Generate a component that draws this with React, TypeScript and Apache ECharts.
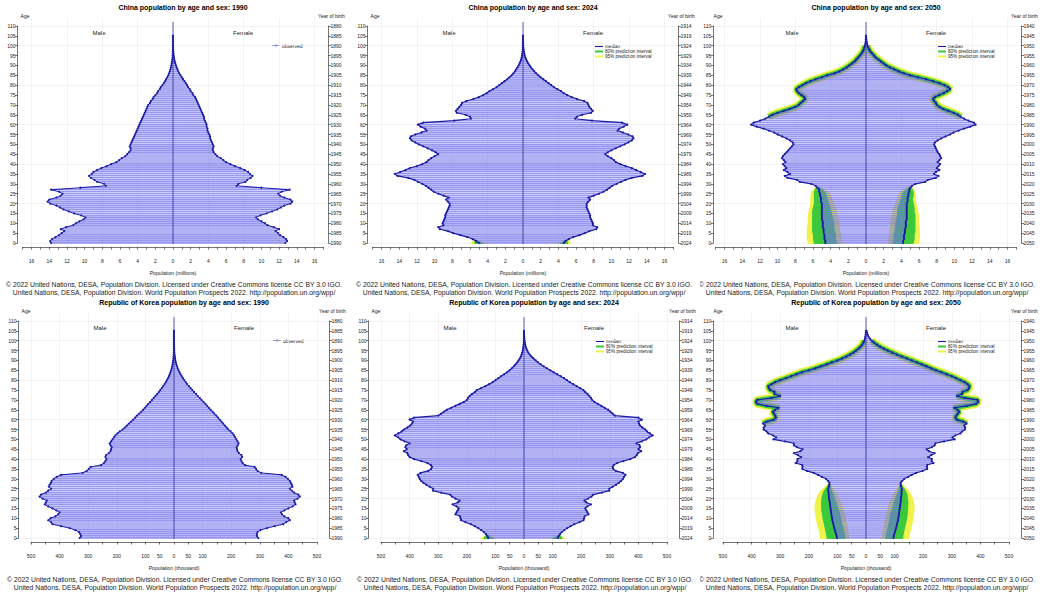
import React, { useEffect, useRef } from "react";
import * as echarts from "echarts";

const FONT = "'Liberation Sans', Arial, Helvetica, sans-serif";
const CREDIT_1 =
  "© 2022 United Nations, DESA, Population Division. Licensed under Creative Commons license CC BY 3.0 IGO.";
const CREDIT_2 =
  "United Nations, DESA, Population Division. World Population Prospects 2022. http://population.un.org/wpp/";

// ---- China, millions, index = age (0..105) ----
const china1990Male = [
  13.8, 13.9, 13.7, 13.3, 12.9, 12.6, 12.3, 12.7, 12.1, 11.3,
  11.0, 10.6, 10.1, 9.9, 10.4, 11.2, 11.8, 12.4, 12.8, 13.2,
  13.9, 14.2, 14.0, 13.2, 12.7, 12.5, 12.9, 13.8, 10.5, 7.6,
  7.8, 8.6, 8.9, 9.3, 9.5, 9.2, 9.0, 8.6, 8.1, 7.5,
  7.0, 6.4, 6.1, 5.8, 5.4, 5.2, 5.0, 4.8, 4.8, 4.9,
  4.8, 4.7, 4.6, 4.5, 4.4, 4.3, 4.2, 4.1, 4.0, 3.9,
  3.8, 3.7, 3.6, 3.5, 3.4, 3.3, 3.2, 3.1, 3.0, 2.9,
  2.8, 2.6, 2.5, 2.3, 2.2, 2.0, 1.8, 1.7, 1.5, 1.4,
  1.2, 1.05, 0.9, 0.8, 0.65, 0.55, 0.45, 0.37, 0.3, 0.24,
  0.19, 0.15, 0.11, 0.08, 0.06, 0.04, 0.03, 0.02, 0.015, 0.01,
  0.008, 0.005, 0.003, 0.002, 0.001, 0.001,
];
const china1990Female = [
  12.7, 12.9, 12.8, 12.5, 12.1, 11.9, 11.6, 12.0, 11.4, 10.7,
  10.4, 10.0, 9.6, 9.4, 9.9, 10.6, 11.2, 11.8, 12.2, 12.6,
  13.3, 13.5, 13.3, 12.6, 12.1, 11.9, 12.3, 13.2, 10.0, 7.2,
  7.4, 8.2, 8.4, 8.8, 9.0, 8.7, 8.5, 8.1, 7.6, 7.0,
  6.5, 6.0, 5.7, 5.4, 5.0, 4.8, 4.6, 4.5, 4.5, 4.6,
  4.5, 4.4, 4.3, 4.2, 4.2, 4.1, 4.0, 3.9, 3.9, 3.8,
  3.8, 3.7, 3.6, 3.5, 3.5, 3.4, 3.3, 3.2, 3.1, 3.0,
  2.9, 2.8, 2.7, 2.6, 2.5, 2.3, 2.2, 2.0, 1.9, 1.7,
  1.6, 1.45, 1.3, 1.15, 1.0, 0.85, 0.72, 0.6, 0.5, 0.41,
  0.33, 0.26, 0.2, 0.15, 0.11, 0.08, 0.06, 0.04, 0.03, 0.02,
  0.014, 0.009, 0.006, 0.004, 0.002, 0.001,
];
const china2024Male = [
  5.0, 5.3, 5.7, 6.3, 7.1, 7.9, 8.5, 9.4, 9.6, 9.0,
  9.1, 9.0, 8.9, 8.8, 8.8, 8.7, 8.6, 8.5, 8.4, 8.3,
  8.3, 8.5, 8.7, 8.4, 9.0, 9.6, 10.1, 10.4, 10.7, 11.0,
  11.4, 11.9, 12.3, 13.0, 14.2, 14.5, 13.9, 13.3, 12.8, 12.0,
  11.4, 10.9, 10.7, 10.4, 10.0, 9.6, 9.9, 10.3, 10.8, 11.3,
  11.8, 12.2, 12.6, 12.8, 12.7, 12.2, 11.5, 10.9, 11.1, 11.6,
  11.9, 11.3, 7.8, 5.9, 6.0, 6.5, 7.5, 7.6, 7.4, 7.2,
  7.0, 6.9, 6.4, 5.6, 5.0, 4.5, 4.1, 3.8, 3.4, 3.0,
  2.7, 2.4, 2.1, 1.8, 1.55, 1.3, 1.1, 0.92, 0.77, 0.63,
  0.5, 0.39, 0.3, 0.22, 0.16, 0.11, 0.08, 0.055, 0.036, 0.024,
  0.015, 0.01, 0.006, 0.004, 0.002, 0.001,
];
const china2024Female = [
  4.6, 4.8, 5.2, 5.7, 6.4, 7.0, 7.5, 8.3, 8.4, 7.9,
  7.9, 7.8, 7.7, 7.6, 7.6, 7.5, 7.4, 7.3, 7.2, 7.2,
  7.2, 7.4, 7.6, 7.4, 8.0, 8.6, 9.1, 9.5, 9.8, 10.1,
  10.6, 11.1, 11.6, 12.3, 13.5, 13.8, 13.3, 12.8, 12.3, 11.6,
  11.0, 10.5, 10.3, 10.0, 9.6, 9.3, 9.6, 10.0, 10.5, 11.0,
  11.5, 11.9, 12.3, 12.5, 12.4, 11.9, 11.3, 10.7, 10.9, 11.4,
  11.8, 11.2, 7.8, 5.9, 6.1, 6.7, 7.7, 7.9, 7.7, 7.5,
  7.4, 7.3, 6.9, 6.1, 5.5, 5.0, 4.6, 4.3, 3.9, 3.5,
  3.2, 2.9, 2.6, 2.3, 2.0, 1.75, 1.5, 1.28, 1.08, 0.9,
  0.74, 0.6, 0.47, 0.36, 0.27, 0.2, 0.14, 0.1, 0.07, 0.045,
  0.03, 0.02, 0.012, 0.007, 0.004, 0.002,
];
const china2050Male = [
  4.6, 4.6, 4.7, 4.7, 4.7, 4.8, 4.8, 4.8, 4.9, 4.9,
  4.9, 4.9, 5.0, 5.0, 5.0, 5.0, 5.0, 5.0, 5.0, 5.0,
  5.0, 5.1, 5.1, 5.1, 5.2, 5.2, 5.3, 5.3, 5.5, 5.7,
  6.2, 7.5, 7.8, 8.9, 9.2, 8.6, 8.9, 9.3, 9.0, 9.2,
  9.4, 9.1, 9.3, 9.5, 9.4, 9.2, 9.0, 8.8, 8.6, 8.4,
  8.2, 8.3, 8.6, 9.0, 9.5, 10.0, 10.4, 11.0, 11.6, 12.4,
  13.0, 12.7, 12.0, 11.4, 11.0, 10.6, 10.0, 9.3, 8.6, 8.0,
  7.6, 7.4, 7.1, 6.9, 7.0, 7.3, 7.6, 7.8, 7.9, 7.6,
  7.2, 6.8, 6.3, 5.7, 5.0, 4.4, 3.6, 3.0, 2.6, 2.2,
  1.9, 1.6, 1.3, 1.1, 0.9, 0.7, 0.52, 0.38, 0.27, 0.19,
  0.13, 0.08, 0.05, 0.03, 0.015, 0.007,
];
const china2050Female = [
  4.2, 4.2, 4.3, 4.3, 4.3, 4.4, 4.4, 4.4, 4.5, 4.5,
  4.5, 4.5, 4.6, 4.6, 4.6, 4.6, 4.6, 4.6, 4.6, 4.6,
  4.6, 4.7, 4.7, 4.7, 4.8, 4.8, 4.9, 4.9, 5.0, 5.2,
  5.6, 6.7, 7.0, 7.9, 8.2, 7.7, 7.9, 8.3, 8.0, 8.2,
  8.4, 8.1, 8.3, 8.5, 8.4, 8.3, 8.1, 8.0, 7.9, 7.8,
  7.7, 7.8, 8.1, 8.5, 9.0, 9.5, 9.9, 10.5, 11.1, 11.8,
  12.4, 12.2, 11.6, 11.1, 10.7, 10.4, 9.9, 9.3, 8.7, 8.3,
  8.0, 7.9, 7.7, 7.6, 7.8, 8.3, 8.8, 9.2, 9.5, 9.3,
  8.9, 8.3, 7.6, 6.8, 5.9, 5.0, 4.3, 3.7, 3.2, 2.7,
  2.3, 2.0, 1.7, 1.4, 1.1, 0.9, 0.7, 0.5, 0.37, 0.26,
  0.18, 0.12, 0.08, 0.05, 0.03, 0.015,
];

// ---- Republic of Korea, thousands, index = age (0..105) ----
const korea1990Male = [
  330, 325, 328, 332, 345, 365, 395, 425, 430, 440,
  432, 415, 405, 400, 412, 425, 440, 452, 448, 445,
  460, 470, 465, 448, 440, 430, 438, 435, 430, 428,
  420, 410, 395, 320, 305, 298, 292, 255, 245, 240,
  236, 240, 238, 228, 222, 220, 218, 222, 225, 220,
  215, 210, 205, 198, 190, 180, 172, 165, 158, 150,
  143, 136, 130, 122, 115, 108, 102, 96, 90, 83,
  77, 71, 65, 59, 53, 48, 43, 38, 33, 29,
  25, 21, 18, 15, 12.5, 10, 8, 6.3, 5, 3.8,
  2.9, 2.2, 1.6, 1.2, 0.9, 0.6, 0.45, 0.3, 0.2, 0.15,
  0.1, 0.07, 0.05, 0.03, 0.02, 0.01,
];
const korea1990Female = [
  295, 290, 290, 292, 302, 325, 352, 382, 392, 405,
  400, 386, 378, 374, 386, 400, 415, 425, 422, 420,
  432, 440, 435, 420, 412, 405, 414, 412, 408, 405,
  398, 390, 376, 305, 292, 287, 282, 248, 240, 236,
  233, 238, 236, 227, 222, 220, 219, 223, 226, 222,
  218, 214, 210, 205, 198, 190, 184, 178, 172, 166,
  160, 154, 148, 141, 135, 128, 122, 116, 110, 103,
  96, 90, 83, 77, 70, 64, 58, 52, 46, 41,
  36, 31, 27, 23, 19.5, 16, 13, 10.5, 8.2, 6.4,
  4.9, 3.7, 2.8, 2, 1.5, 1.1, 0.8, 0.55, 0.4, 0.28,
  0.2, 0.14, 0.1, 0.06, 0.04, 0.02,
];
const korea2024Male = [
  125, 128, 133, 140, 150, 160, 172, 186, 205, 220,
  222, 224, 240, 236, 232, 228, 236, 250, 232, 225,
  240, 252, 258, 290, 318, 318, 330, 342, 352, 360,
  365, 368, 372, 362, 335, 325, 322, 326, 338, 360,
  385, 400, 405, 408, 420, 410, 415, 412, 400, 418,
  432, 440, 452, 440, 428, 420, 408, 398, 392, 388,
  400, 385, 300, 290, 280, 270, 255, 240, 225, 210,
  200, 196, 190, 182, 172, 165, 150, 135, 122, 110,
  100, 90, 80, 70, 60, 51, 43, 36, 30, 24,
  19, 15, 11, 8.5, 6.3, 4.6, 3.3, 2.3, 1.6, 1.1,
  0.7, 0.5, 0.3, 0.2, 0.1, 0.05,
];
const korea2024Female = [
  118, 121, 126, 132, 141, 151, 163, 176, 194, 208,
  210, 212, 226, 222, 218, 214, 221, 234, 218, 211,
  224, 236, 242, 272, 298, 298, 310, 322, 332, 340,
  346, 350, 355, 346, 321, 312, 310, 314, 326, 348,
  372, 388, 394, 398, 410, 400, 406, 404, 393, 412,
  428, 437, 450, 440, 430, 424, 414, 406, 402, 400,
  412, 400, 318, 310, 302, 294, 282, 270, 258, 246,
  238, 234, 228, 222, 214, 208, 196, 184, 172, 160,
  150, 140, 128, 116, 104, 92, 80, 69, 59, 49,
  41, 33, 26, 20, 15, 11.5, 8.5, 6, 4.2, 2.9,
  2, 1.3, 0.9, 0.6, 0.4, 0.2,
];
const korea2050Male = [
  102, 103, 105, 107, 109, 111, 113, 114, 116, 118,
  119, 120, 121, 122, 123, 124, 125, 126, 127, 128,
  129, 130, 131, 131, 132, 132, 130, 128, 128, 133,
  140, 155, 168, 183, 207, 223, 222, 223, 246, 240,
  240, 227, 238, 252, 230, 222, 242, 252, 253, 284,
  324, 314, 325, 342, 348, 358, 358, 353, 360, 347,
  322, 315, 318, 322, 326, 318, 305, 348, 380, 385,
  380, 330, 300, 320, 320, 335, 340, 342, 330, 318,
  300, 280, 262, 244, 225, 200, 178, 158, 138, 120,
  100, 84, 69, 56, 44, 35, 26, 19, 13, 9,
  6, 4, 2.5, 1.5, 0.9, 0.5,
];
const korea2050Female = [
  96, 97, 99, 101, 103, 105, 107, 108, 110, 112,
  113, 114, 115, 116, 117, 118, 119, 120, 121, 122,
  122, 123, 124, 124, 125, 125, 123, 121, 121, 127,
  134, 148, 160, 175, 198, 214, 213, 214, 236, 230,
  230, 217, 228, 240, 220, 212, 230, 240, 243, 273,
  310, 302, 312, 330, 336, 346, 347, 343, 352, 340,
  318, 312, 316, 321, 326, 320, 308, 352, 385, 392,
  390, 345, 318, 335, 338, 355, 360, 362, 355, 345,
  330, 315, 300, 282, 264, 245, 228, 212, 195, 178,
  160, 143, 125, 108, 92, 76, 62, 49, 38, 28,
  20, 14, 9, 6, 4, 2,
];

// ---- prediction intervals: [age, lo95, lo80, hi80, hi95] ----
const china2024MaleBands = [
  [0, 4.2, 4.5, 5.5, 5.9],
  [1, 4.9, 5.0, 5.5, 5.7],
  [2, 5.5, 5.55, 5.65, 5.7],
];
const china2024FemaleBands = [
  [0, 3.9, 4.2, 5.1, 5.4],
  [1, 4.5, 4.6, 5.0, 5.2],
  [2, 5.1, 5.15, 5.25, 5.3],
];
const china2050MaleBands = [
  [0, 2.7, 3.3, 5.9, 6.6],
  [2, 2.8, 3.4, 6.0, 6.7],
  [4, 2.8, 3.4, 6.0, 6.7],
  [6, 2.9, 3.5, 6.1, 6.7],
  [8, 3.0, 3.6, 6.1, 6.7],
  [10, 3.0, 3.6, 6.1, 6.6],
  [12, 3.1, 3.7, 6.1, 6.6],
  [14, 3.2, 3.8, 6.1, 6.6],
  [16, 3.3, 3.9, 6.1, 6.5],
  [18, 3.4, 4.0, 6.0, 6.4],
  [20, 3.6, 4.2, 5.9, 6.3],
  [22, 3.8, 4.3, 5.9, 6.3],
  [24, 3.9, 4.4, 5.9, 6.3],
  [26, 4.2, 4.6, 5.9, 6.2],
  [28, 5.0, 5.2, 5.7, 5.8],
];
const china2050FemaleBands = [
  [0, 2.5, 3.0, 5.4, 6.0],
  [2, 2.5, 3.1, 5.5, 6.1],
  [4, 2.6, 3.1, 5.5, 6.1],
  [6, 2.6, 3.2, 5.6, 6.1],
  [8, 2.7, 3.3, 5.6, 6.1],
  [10, 2.7, 3.3, 5.6, 6.0],
  [12, 2.8, 3.4, 5.6, 6.0],
  [14, 2.9, 3.5, 5.6, 6.0],
  [16, 3.0, 3.5, 5.5, 5.9],
  [18, 3.1, 3.6, 5.5, 5.8],
  [20, 3.3, 3.8, 5.4, 5.7],
  [22, 3.5, 3.9, 5.3, 5.6],
  [24, 3.6, 4.0, 5.4, 5.7],
  [26, 3.8, 4.2, 5.4, 5.6],
  [28, 4.6, 4.8, 5.2, 5.3],
];
const korea2024MaleBands = [
  [0, 96, 106, 142, 152],
  [1, 118, 121, 135, 138],
  [2, 131, 132, 134, 135],
];
const korea2024FemaleBands = [
  [0, 90, 100, 134, 144],
  [1, 112, 115, 128, 131],
  [2, 124, 125, 127, 128],
];
const korea2050MaleBands = [
  [0, 58, 72, 138, 160],
  [2, 60, 74, 140, 163],
  [4, 62, 77, 143, 166],
  [6, 65, 80, 146, 170],
  [8, 68, 84, 149, 173],
  [10, 71, 87, 152, 176],
  [12, 74, 90, 154, 178],
  [14, 78, 94, 156, 180],
  [16, 82, 98, 157, 180],
  [18, 87, 103, 157, 178],
  [20, 93, 108, 156, 174],
  [22, 100, 113, 153, 168],
  [24, 108, 119, 148, 160],
  [26, 118, 123, 138, 144],
  [28, 126, 127, 129, 130],
];
const korea2050FemaleBands = [
  [0, 55, 68, 130, 151],
  [2, 57, 70, 132, 154],
  [4, 59, 73, 135, 157],
  [6, 61, 76, 138, 161],
  [8, 64, 79, 141, 163],
  [10, 67, 82, 144, 166],
  [12, 70, 85, 146, 168],
  [14, 74, 89, 147, 170],
  [16, 77, 93, 148, 170],
  [18, 82, 97, 148, 168],
  [20, 88, 102, 147, 164],
  [22, 95, 107, 145, 159],
  [24, 102, 112, 140, 151],
  [26, 112, 116, 130, 136],
  [28, 119, 120, 122, 123],
];

// ---- layout (panel-local pixels) ----
const PLOT_TOP = 18;
const PLOT_BOTTOM = 247;
const AGE110_Y = 26;
const AGE0_Y = 243;
const HALF_W = 155.5;

const C_FILL = "rgba(112,112,236,0.72)";
const C_EDGE = "#1a1aa6";
const C_AXIS = "#3a3a3a";
const C_TEXT = "#222";
const C_Y95 = "#eef24a";
const C_G80 = "#3cc83c";

const SCALES: any = {
  cn: {
    ppu: 8.84,
    tickMax: 17,
    tickStep: 1,
    gridMax: 16,
    gridStep: 4,
    unit: "Population (millions)",
    label: (v: number) => (Math.round(v) % 2 === 0 ? String(Math.abs(Math.round(v))) : ""),
  },
  kr: {
    ppu: 0.286,
    tickMax: 500,
    tickStep: 50,
    gridMax: 500,
    gridStep: 100,
    unit: "Population (thousand)",
    label: (v: number) => {
      const a = Math.abs(Math.round(v));
      return a % 100 === 0 || a === 50 ? String(a) : "";
    },
  },
};

interface Panel {
  title: string;
  year: number;
  kind: "cn" | "kr";
  male: number[];
  female: number[];
  maleBands?: number[][];
  femaleBands?: number[][];
  fringeFrom?: number;
  left: number;
  top: number;
  width: number;
  height: number;
  cx: number;
}

const ROW2 = 295;

const PANELS: Panel[] = [
  { title: "China population by age and sex: 1990", year: 1990, kind: "cn", male: china1990Male, female: china1990Female, left: 0, top: 0, width: 350, height: 298, cx: 173 },
  { title: "China population by age and sex: 2024", year: 2024, kind: "cn", male: china2024Male, female: china2024Female, maleBands: china2024MaleBands, femaleBands: china2024FemaleBands, left: 350, top: 0, width: 350, height: 298, cx: 173 },
  { title: "China population by age and sex: 2050", year: 2050, kind: "cn", male: china2050Male, female: china2050Female, maleBands: china2050MaleBands, femaleBands: china2050FemaleBands, fringeFrom: 64, left: 700, top: 0, width: 345, height: 298, cx: 166 },
  { title: "Republic of Korea population by age and sex: 1990", year: 1990, kind: "kr", male: korea1990Male, female: korea1990Female, left: 0, top: ROW2, width: 350, height: 301, cx: 174 },
  { title: "Republic of Korea population by age and sex: 2024", year: 2024, kind: "kr", male: korea2024Male, female: korea2024Female, maleBands: korea2024MaleBands, femaleBands: korea2024FemaleBands, left: 350, top: ROW2, width: 350, height: 301, cx: 174 },
  { title: "Republic of Korea population by age and sex: 2050", year: 2050, kind: "kr", male: korea2050Male, female: korea2050Female, maleBands: korea2050MaleBands, femaleBands: korea2050FemaleBands, fringeFrom: 58, left: 700, top: ROW2, width: 345, height: 301, cx: 166 },
];

function txt(text: string, x: number, y: number, size: number, align = "center", weight = "normal", fill = C_TEXT) {
  return {
    type: "text",
    x,
    y,
    silent: true,
    style: {
      text,
      fill,
      fontSize: size,
      fontFamily: FONT,
      fontWeight: weight,
      align,
      textAlign: align,
      verticalAlign: "middle",
      textVerticalAlign: "middle",
    },
  };
}

// interval band drawn as one polygon on the plot scales
function bandSeries(rows: number[][], sign: number, loIdx: number, hiIdx: number, color: string) {
  return {
    type: "custom",
    xAxisIndex: 0,
    yAxisIndex: 0,
    z: 1,
    silent: true,
    data: [0],
    renderItem: (_params: any, api: any) => {
      const pts: number[][] = [];
      const n = rows.length;
      pts.push(api.coord([sign * rows[0][loIdx], rows[0][0] - 0.5]));
      rows.forEach((r) => pts.push(api.coord([sign * r[loIdx], r[0]])));
      pts.push(api.coord([sign * rows[n - 1][loIdx], rows[n - 1][0] + 0.5]));
      pts.push(api.coord([sign * rows[n - 1][hiIdx], rows[n - 1][0] + 0.5]));
      for (let i = n - 1; i >= 0; i--) pts.push(api.coord([sign * rows[i][hiIdx], rows[i][0]]));
      pts.push(api.coord([sign * rows[0][hiIdx], rows[0][0] - 0.5]));
      return { type: "polygon", shape: { points: pts }, style: { fill: color } };
    },
  };
}

function buildOption(p: Panel) {
  const s = SCALES[p.kind];
  const xr = HALF_W / s.ppu;
  const pxYear = (AGE0_Y - AGE110_Y) / 110;
  const yMin = -(PLOT_BOTTOM - AGE0_Y) / pxYear;
  const yMax = 110 + (AGE110_Y - PLOT_TOP) / pxYear;
  const plotLeft = p.cx - HALF_W;
  const projected = !!p.maleBands;

  const series: any[] = [];

  if (p.maleBands && p.femaleBands) {
    series.push(bandSeries(p.maleBands, -1, 1, 4, C_Y95));
    series.push(bandSeries(p.femaleBands, 1, 1, 4, C_Y95));
    series.push(bandSeries(p.maleBands, -1, 2, 3, C_G80));
    series.push(bandSeries(p.femaleBands, 1, 2, 3, C_G80));
  }

  if (p.fringeFrom !== undefined) {
    const from = p.fringeFrom;
    const mf = p.male.map((v, a) => [-v, a]).filter((d) => d[1] >= from && d[1] <= 100);
    const ff = p.female.map((v, a) => [v, a]).filter((d) => d[1] >= from && d[1] <= 100);
    [mf, ff].forEach((d) => {
      series.push({ type: "line", xAxisIndex: 0, yAxisIndex: 0, z: 1, silent: true, data: d, symbol: "none", lineStyle: { color: C_Y95, width: 8 } });
      series.push({ type: "line", xAxisIndex: 0, yAxisIndex: 0, z: 1, silent: true, data: d, symbol: "none", lineStyle: { color: C_G80, width: 4.5 } });
    });
  }

  const bars = [
    ...p.male.map((v, a) => [-v, a]),
    ...p.female.map((v, a) => [v, a]),
  ];
  series.push({
    type: "custom",
    xAxisIndex: 0,
    yAxisIndex: 0,
    z: 3,
    silent: true,
    data: bars,
    renderItem: (_params: any, api: any) => {
      const x = api.value(0);
      const age = api.value(1);
      const p0 = api.coord([0, age + 0.5]);
      const p1 = api.coord([x, age - 0.5]);
      return {
        type: "rect",
        shape: {
          x: Math.min(p0[0], p1[0]),
          y: p0[1],
          width: Math.abs(p1[0] - p0[0]),
          height: Math.max(0.1, p1[1] - p0[1] - 0.35),
        },
        style: { fill: C_FILL },
      };
    },
  });

  [p.male.map((v, a) => [-v, a]), p.female.map((v, a) => [v, a])].forEach((d) => {
    series.push({
      type: "line",
      xAxisIndex: 0,
      yAxisIndex: 0,
      z: 4,
      silent: true,
      data: d,
      symbol: "circle",
      symbolSize: 2,
      itemStyle: { color: C_EDGE },
      lineStyle: { color: C_EDGE, width: projected ? 1.15 : 1 },
    });
  });

  series.push({
    type: "line",
    xAxisIndex: 0,
    yAxisIndex: 0,
    z: 5,
    silent: true,
    data: [
      [0, -0.5],
      [0, 112],
    ],
    symbol: "none",
    lineStyle: { color: "#30309a", width: 0.8 },
  });

  const ageAxis = (position: string, fmt: (v: number) => string) => ({
    gridIndex: 1,
    type: "value",
    position,
    min: 0,
    max: 110,
    interval: 5,
    axisLine: { show: true, lineStyle: { color: C_AXIS, width: 0.7 } },
    axisTick: { show: true, length: 2.5, lineStyle: { color: C_AXIS, width: 0.7 } },
    axisLabel: { show: true, fontSize: 5, fontFamily: FONT, color: C_TEXT, margin: 2, formatter: fmt },
    splitLine: { show: false },
  });

  const grid3Left = p.cx - s.gridMax * s.ppu;
  const legend: any[] = [];
  if (!projected) {
    const lx = p.cx + 99;
    legend.push({ type: "line", silent: true, shape: { x1: lx, y1: 45.5, x2: lx + 8, y2: 45.5 }, style: { stroke: C_EDGE, lineWidth: 0.9 } });
    legend.push({ type: "circle", silent: true, shape: { cx: lx + 4, cy: 45.5, r: 0.9 }, style: { fill: C_EDGE } });
    legend.push(txt("observed", lx + 10, 45.5, 5, "left"));
  } else {
    const lx = p.cx + 72;
    const rows = [
      ["median", C_EDGE, 1.1],
      ["80% prediction interval", C_G80, 2],
      ["95% prediction interval", C_Y95, 2],
    ];
    rows.forEach((r: any, i) => {
      const y = 46.5 + i * 5;
      legend.push({ type: "line", silent: true, shape: { x1: lx, y1: y, x2: lx + 8, y2: y }, style: { stroke: r[1], lineWidth: r[2] } });
      legend.push(txt(r[0], lx + 10, y, 4.6, "left"));
    });
  }

  return {
    animation: false,
    backgroundColor: "transparent",
    grid: [
      { left: plotLeft, top: PLOT_TOP, width: 2 * HALF_W, height: PLOT_BOTTOM - PLOT_TOP },
      { left: plotLeft, top: AGE110_Y, width: 2 * HALF_W, height: AGE0_Y - AGE110_Y },
      { left: p.cx - s.tickMax * s.ppu, top: PLOT_TOP, width: 2 * s.tickMax * s.ppu, height: PLOT_BOTTOM - PLOT_TOP },
      { left: grid3Left, top: PLOT_TOP, width: 2 * s.gridMax * s.ppu, height: PLOT_BOTTOM - PLOT_TOP },
    ],
    xAxis: [
      { gridIndex: 0, type: "value", min: -xr, max: xr, show: false },
      { gridIndex: 1, type: "value", min: 0, max: 1, show: false },
      {
        gridIndex: 2,
        type: "value",
        position: "bottom",
        offset: 5,
        min: -s.tickMax,
        max: s.tickMax,
        interval: s.tickStep,
        axisLine: { show: true, lineStyle: { color: C_AXIS, width: 0.7 } },
        axisTick: { show: true, length: 2.5, lineStyle: { color: C_AXIS, width: 0.7 } },
        axisLabel: { show: true, fontSize: 5, fontFamily: FONT, color: C_TEXT, margin: 6, formatter: s.label, hideOverlap: false },
        splitLine: { show: false },
      },
      {
        gridIndex: 3,
        type: "value",
        min: -s.gridMax,
        max: s.gridMax,
        interval: s.gridStep,
        axisLine: { show: false },
        axisTick: { show: false },
        axisLabel: { show: false },
        splitLine: { show: true, lineStyle: { color: "#e9e9e9", width: 0.6 } },
      },
    ],
    yAxis: [
      { gridIndex: 0, type: "value", min: yMin, max: yMax, show: false },
      ageAxis("left", (v: number) => String(v)),
      ageAxis("right", (v: number) => String(p.year - v)),
      {
        gridIndex: 1,
        type: "value",
        min: 0,
        max: 110,
        interval: 20,
        axisLine: { show: false },
        axisTick: { show: false },
        axisLabel: { show: false },
        splitLine: { show: true, lineStyle: { color: "#e9e9e9", width: 0.6 } },
      },
      { gridIndex: 2, type: "value", min: 0, max: 1, show: false },
      { gridIndex: 3, type: "value", min: 0, max: 1, show: false },
    ],
    series,
    graphic: {
      elements: [
        txt(p.title, p.cx + 10, 7, 7, "center", "bold", "#000"),
        txt("Age", p.cx - 148, 16, 5, "center"),
        txt("Year of birth", p.cx + 145, 16, 5, "left"),
        txt("Male", p.cx - 74, 33, 6, "center"),
        txt("Female", p.cx + 70, 33, 6, "center"),
        txt(s.unit, p.cx, 273, 5.2, "center"),
        txt(CREDIT_1, p.cx + 1, 284, 6.8, "center"),
        txt(CREDIT_2, p.cx + 1, 292, 6.8, "center"),
        ...legend,
      ],
    },
  };
}

function PyramidPanel({ spec }: { spec: Panel }) {
  const ref = useRef<HTMLDivElement>(null);
  useEffect(() => {
    if (!ref.current) return;
    const chart = echarts.init(ref.current, undefined, { renderer: "svg" });
    chart.setOption(buildOption(spec) as any);
    return () => chart.dispose();
  }, [spec]);
  return (
    <div
      ref={ref}
      style={{
        position: "absolute",
        left: spec.left,
        top: spec.top,
        width: spec.width,
        height: spec.height,
        overflow: "hidden",
      }}
    />
  );
}

export default function App() {
  return (
    <div
      style={{
        position: "fixed",
        left: 0,
        top: 0,
        width: 1045,
        height: 596,
        background: "#fff",
        overflow: "hidden",
      }}
    >
      {PANELS.map((p) => (
        <PyramidPanel key={p.title} spec={p} />
      ))}
    </div>
  );
}
